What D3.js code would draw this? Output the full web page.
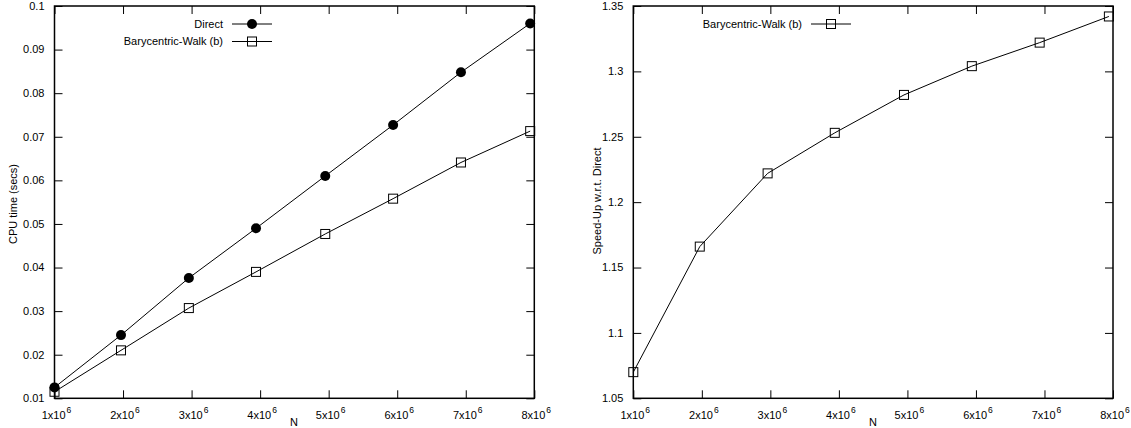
<!DOCTYPE html>
<html><head><meta charset="utf-8">
<script src="https://cdn.jsdelivr.net/npm/d3@7"></script>
<style>
body{margin:0;background:#fff;}
svg text{font-family:"Liberation Sans",Arial,Helvetica,sans-serif;font-size:11px;fill:#000;}
</style></head>
<body><svg id="c" width="1131" height="428"></svg>
<script>
// Data
const N = [1.0e6, 1.97e6, 2.96e6, 3.94e6, 4.95e6, 5.94e6, 6.93e6, 7.94e6];
const direct = [0.0125, 0.0245, 0.0376, 0.0490, 0.0610, 0.0727, 0.0848, 0.0960];
const bary = [0.0115, 0.0210, 0.0307, 0.0390, 0.0477, 0.0558, 0.0641, 0.0713];
const speedup = [1.070, 1.166, 1.222, 1.253, 1.282, 1.304, 1.322, 1.342];
const xTicks = [1e6, 2e6, 3e6, 4e6, 5e6, 6e6, 7e6, 8e6];
const yTicksL = [0.01, 0.02, 0.03, 0.04, 0.05, 0.06, 0.07, 0.08, 0.09, 0.1];
const yTicksR = [1.05, 1.1, 1.15, 1.2, 1.25, 1.3, 1.35];

const svg = d3.select("#c");
const yTop = 6, yBot = 398.3;

function panel(opts){
  const g = svg.append("g");
  const x = d3.scaleLinear().domain([1e6, 8e6]).range([opts.x0, opts.x1]);
  const y = d3.scaleLinear().domain(opts.ydom).range([yBot, yTop]);
  const tk = 8;
  const clean = s=>{s.select(".domain").remove(); s.selectAll("line").attr("stroke","#000");};
  g.append("g").attr("transform",`translate(0,${yBot})`)
    .call(d3.axisBottom(x).tickValues(xTicks).tickSizeInner(-tk).tickSizeOuter(0).tickFormat("")).call(clean);
  g.append("g").attr("transform",`translate(0,${yTop})`)
    .call(d3.axisTop(x).tickValues(xTicks).tickSizeInner(-tk).tickSizeOuter(0).tickFormat("")).call(clean);
  g.append("g").attr("transform",`translate(${opts.x0},0)`)
    .call(d3.axisLeft(y).tickValues(opts.yticks).tickSizeInner(-tk).tickSizeOuter(0).tickFormat("")).call(clean);
  g.append("g").attr("transform",`translate(${opts.x1},0)`)
    .call(d3.axisRight(y).tickValues(opts.yticks).tickSizeInner(-tk).tickSizeOuter(0).tickFormat("")).call(clean);
  g.append("rect").attr("x",opts.x0).attr("y",yTop).attr("width",opts.x1-opts.x0).attr("height",yBot-yTop)
    .attr("fill","none").attr("stroke","#000").attr("stroke-width",1.5);
  xTicks.forEach(v=>{
    const t = g.append("text").attr("x",x(v)+2).attr("y",418.5).attr("text-anchor","middle").attr("font-size","10px");
    t.append("tspan").text((v/1e6)+"x10");
    t.append("tspan").attr("dx",1).attr("dy",-5.5).attr("font-size","8.5px").text("6");
  });
  opts.yticks.forEach(v=>{
    g.append("text").attr("x",opts.x0-10).attr("y",y(v)).attr("dy","0.35em")
      .attr("text-anchor","end").text(opts.yfmt(v));
  });
  g.append("text").attr("x",opts.nx).attr("y",426).attr("text-anchor","middle").attr("font-size","10.5px").text("N");
  g.append("text").attr("transform",`translate(${opts.ytx},${opts.yty}) rotate(-90)`)
    .attr("text-anchor","middle").attr("dy","0.35em").attr("font-size","10.6px").text(opts.ytitle);
  return {g,x,y};
}

function marker(g, cx, cy, type){
  if(type==="circle") g.append("circle").attr("cx",cx).attr("cy",cy).attr("r",5).attr("fill","#000");
  else g.append("rect").attr("x",cx-4.5).attr("y",cy-4.5).attr("width",9).attr("height",9)
    .attr("fill","none").attr("stroke","#000").attr("stroke-width",1);
}
function drawSeries(p, vals, type){
  const line = d3.line().x((d,i)=>p.x(N[i])).y(d=>p.y(d));
  p.g.append("path").datum(vals).attr("d",line).attr("fill","none").attr("stroke","#000").attr("stroke-width",1);
  vals.forEach((d,i)=>marker(p.g, p.x(N[i]), p.y(d), type));
}
function legend(g, xText, xl0, xl1, yy, label, type){
  g.append("text").attr("x",xText).attr("y",yy).attr("dy","0.35em").attr("text-anchor","end")
    .attr("font-size","11.35px").text(label);
  g.append("line").attr("x1",xl0).attr("x2",xl1).attr("y1",yy).attr("y2",yy).attr("stroke","#000");
  marker(g,(xl0+xl1)/2,yy,type);
}
const fmt = d=>String(+d.toFixed(2));

const L = panel({x0:54.5,x1:534.3,ydom:[0.01,0.1],yticks:yTicksL,yfmt:fmt,
  nx:294,ytx:13,yty:204,ytitle:"CPU time (secs)"});
drawSeries(L, direct, "circle");
drawSeries(L, bary, "square");
legend(L.g, 223, 232, 272, 24, "Direct", "circle");
legend(L.g, 223, 232, 272, 41.5, "Barycentric-Walk (b)", "square");

const R = panel({x0:633.3,x1:1113,ydom:[1.05,1.35],yticks:yTicksR,yfmt:fmt,
  nx:873,ytx:597,yty:201,ytitle:"Speed-Up w.r.t. Direct"});
drawSeries(R, speedup, "square");
legend(R.g, 802, 811, 851, 24, "Barycentric-Walk (b)", "square");
</script></body></html>
